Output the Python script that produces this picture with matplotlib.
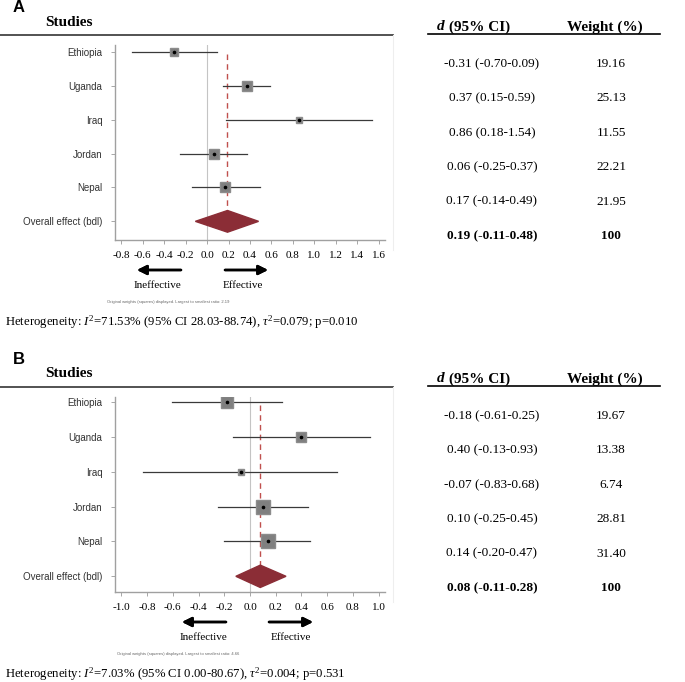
import matplotlib
matplotlib.use('Agg')
import matplotlib.pyplot as plt
from matplotlib.patches import Polygon
from matplotlib.lines import Line2D
import numpy as np

plt.rcParams['mathtext.fontset'] = 'custom'
plt.rcParams['mathtext.rm'] = 'Liberation Serif'
plt.rcParams['mathtext.it'] = 'Liberation Serif:italic'

# data
studies = ['Ethiopia', 'Uganda', 'Iraq', 'Jordan', 'Nepal']
overall_label = 'Overall effect (bdl)'

a_d = [-0.31, 0.37, 0.86, 0.06, 0.17]
a_lo = [-0.70, 0.15, 0.18, -0.25, -0.14]
a_hi = [0.09, 0.59, 1.54, 0.37, 0.49]
a_w = [19.16, 25.13, 11.55, 22.21, 21.95]
a_overall = [0.19, -0.11, 0.48]
a_xticks = [-0.8, -0.6, -0.4, -0.2, 0.0, 0.2, 0.4, 0.6, 0.8, 1.0, 1.2, 1.4, 1.6]
a_note = 'Original weights (squares) displayed. Largest to smallest ratio: 2.19'
a_het = r'Heterogeneity: $I^2$=71.53% (95% CI 28.03-88.74), $\tau^2$=0.079; p=0.010'

b_d = [-0.18, 0.40, -0.07, 0.10, 0.14]
b_lo = [-0.61, -0.13, -0.83, -0.25, -0.20]
b_hi = [0.25, 0.93, 0.68, 0.45, 0.47]
b_w = [19.67, 13.38, 6.74, 28.81, 31.40]
b_overall = [0.08, -0.11, 0.28]
b_xticks = [-1.0, -0.8, -0.6, -0.4, -0.2, 0.0, 0.2, 0.4, 0.6, 0.8, 1.0]
b_note = 'Original weights (squares) displayed. Largest to smallest ratio: 4.66'
b_het = r'Heterogeneity: $I^2$=7.03% (95% CI 0.00-80.67), $\tau^2$=0.004; p=0.531'

W, H = 685, 682
fig = plt.figure(figsize=(W / 100, H / 100), dpi=100)

SERIF = 'Liberation Serif'
SANS = 'Liberation Sans'


def fx(px):
    return px / W


def fy(py):
    return 1 - py / H


def hline(x0, x1, y, **kw):
    fig.add_artist(Line2D([fx(x0), fx(x1)], [fy(y), fy(y)], transform=fig.transFigure, **kw))


def vline(x, y0, y1, **kw):
    fig.add_artist(Line2D([fx(x), fx(x)], [fy(y0), fy(y1)], transform=fig.transFigure, **kw))


def forest(top, bottom, d, lo, hi, w, overall, xlim, xticks, ylim, max_side):
    ax = fig.add_axes([fx(115), fy(bottom), fx(385) - fx(115), (bottom - top) / H])
    rows = np.arange(len(studies))
    ov_row = len(studies)

    ax.axvline(0, color='#c4c4c4', lw=0.8, zorder=1)
    ax.plot([overall[0], overall[0]], [0.08, ov_row - 0.32], color='#c0504d',
            lw=1.0, dashes=(4, 3), zorder=2)

    for r, di, l, h, wi in zip(rows, d, lo, hi, w):
        ax.plot([l, h], [r, r], color='#3a3a3a', lw=0.9, zorder=3)
        side = max_side * np.sqrt(wi / max(w)) * 0.72
        ax.plot(di, r, marker='s', ms=side, color='#7f7f7f', mec='#8c8c8c', zorder=4)
        ax.plot(di, r, marker='o', ms=1.6, color='black', zorder=5)

    dm, dl, dh = overall
    hh = 0.32
    ax.add_patch(Polygon([(dl, ov_row), (dm, ov_row - hh), (dh, ov_row), (dm, ov_row + hh)],
                         closed=True, color='#8b2d36', zorder=4))

    ax.set_xlim(*xlim)
    ax.set_ylim(*ylim)
    ax.set_yticks(list(rows) + [ov_row])
    ax.set_yticklabels(studies + [overall_label], fontsize=7, family=SANS, color='#333333')
    ax.set_xticks(xticks)
    ax.set_xticklabels([f'{t:.1f}' for t in xticks], fontsize=8, family=SERIF)
    ax.tick_params(axis='x', length=3, width=0.6, color='#999999', pad=5)
    ax.tick_params(axis='y', length=3, width=0.6, color='#999999', pad=6)
    for s in ['top', 'right']:
        ax.spines[s].set_visible(False)
    for s in ['left', 'bottom']:
        ax.spines[s].set_color('#a0a0a0')
        ax.spines[s].set_linewidth(1.0)
    return ax


def panel(letter, y0, d, lo, hi, w, overall, xlim, xticks, ylim, max_side,
          arrows, labels_x, note_x, note, het):
    # y0 = pixel y of top rule
    fig.text(fx(13), fy(y0 - 27), letter, fontsize=12, weight='bold', family=SANS, va='center')
    fig.text(fx(45), fy(y0 - 13), 'Studies', fontsize=11, weight='bold', family=SERIF, va='center')
    hline(0, 393, y0, color='#444444', lw=1.3)
    hline(428, 660, y0 - 1.5, color='black', lw=1.2)
    vline(393, y0, y0 + 215, color='#eeeeee', lw=0.8)

    fig.text(fx(437), fy(y0 - 8), 'd', fontsize=11, weight='bold', style='italic',
             family=SERIF, va='center')
    fig.text(fx(449), fy(y0 - 8), '(95% CI)', fontsize=11, weight='bold', family=SERIF, va='center')
    fig.text(fx(605), fy(y0 - 8), 'Weight (%)', fontsize=11, weight='bold', family=SERIF,
             va='center', ha='center')

    top = y0 + 10
    bottom = y0 + 205
    forest(top, bottom, d, lo, hi, w, overall, xlim, xticks, ylim, max_side)

    # table rows
    row_px = top + 7 + np.arange(len(studies) + 1) * 34.4 + 12
    for i in range(len(studies)):
        fig.text(fx(492), fy(row_px[i]), f'{d[i]:.2f} ({lo[i]:.2f}-{hi[i]:.2f})',
                 fontsize=9.5, family=SERIF, ha='center', va='center')
        fig.text(fx(611), fy(row_px[i]), f'{w[i]:.2f}', fontsize=9.5, family=SERIF,
                 ha='center', va='center')
    fig.text(fx(492), fy(row_px[-1]), f'{overall[0]:.2f} ({overall[1]:.2f}-{overall[2]:.2f})',
             fontsize=9.5, family=SERIF, weight='bold', ha='center', va='center')
    fig.text(fx(611), fy(row_px[-1]), '100', fontsize=9.5, family=SERIF, weight='bold',
             ha='center', va='center')

    # direction arrows
    ay = bottom + 30
    for xs, xe in arrows:
        fig.add_artist(plt.annotate('', xy=(fx(xe), fy(ay)), xytext=(fx(xs), fy(ay)),
                                    xycoords='figure fraction', textcoords='figure fraction',
                                    arrowprops=dict(arrowstyle='-|>', lw=1.8, color='black',
                                                    mutation_scale=14, shrinkA=0, shrinkB=0)))
    fig.text(fx(labels_x[0]), fy(ay + 15), 'Ineffective', fontsize=8, family=SERIF,
             ha='center', va='center')
    fig.text(fx(labels_x[1]), fy(ay + 15), 'Effective', fontsize=8, family=SERIF,
             ha='center', va='center')
    fig.text(fx(note_x), fy(bottom + 62), note, fontsize=3, family=SANS, color='#666666',
             va='center')
    fig.text(fx(5), fy(bottom + 82), het, fontsize=9.2, family=SERIF, va='center')


panel('A', 35, a_d, a_lo, a_hi, a_w, a_overall, (-0.86, 1.66), a_xticks, (5.55, -0.2), 10,
      [(181, 137), (225, 268)], (157, 243), 107, a_note, a_het)
panel('B', 387, b_d, b_lo, b_hi, b_w, b_overall, (-1.05, 1.05), b_xticks, (5.45, -0.14), 14,
      [(226, 182), (269, 313)], (203, 291), 117, b_note, b_het)

fig.savefig('out.png', dpi=100, facecolor='white')
